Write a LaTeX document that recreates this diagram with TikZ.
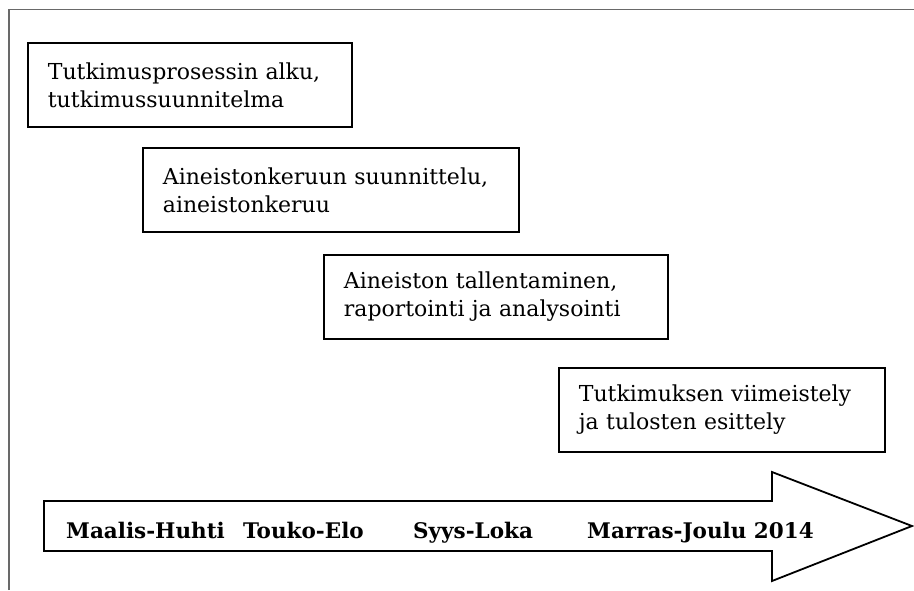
\documentclass[tikz,border=0pt]{standalone}
\usepackage{fontspec}
\setmainfont{DejaVu Serif}
\definecolor{kehys}{RGB}{105,105,105}

\begin{document}
\begin{tikzpicture}[x=1pt,y=-1pt,
		vaihe/.style={draw,line width=1.8pt,align=left,anchor=north west,
			inner xsep=20pt,inner ysep=0pt,minimum height=84pt,text width=#1,
			font=\fontsize{22}{28}\selectfont},
		kuukausi/.style={anchor=base west,inner sep=0pt,
			font=\fontsize{21.5}{24}\selectfont\bfseries}]
			
				\useasboundingbox (0,0) rectangle (914,590);
				\draw[kehys,line width=1.5pt] (9,590) -- (9,9.5) -- (914,9.5);
				
				\node[vaihe=284pt] (alku) at (27,42) {Tutkimusprosessin alku,\\tutkimussuunnitelma};
				\node[vaihe=336pt] (keruu) at (142,147) {Aineistonkeruun suunnittelu,\\aineistonkeruu};
				\node[vaihe=304pt] (analyysi) at (323,254) {Aineiston tallentaminen,\\raportointi ja analysointi};
				\node[vaihe=286pt] (viimeistely) at (558,367) {Tutkimuksen viimeistely\\ja tulosten esittely};
				
				\draw[line width=1.8pt] (44,501) -- (772,501) -- (772,472) -- (912,526)
					-- (772,581) -- (772,551) -- (44,551) -- cycle;
				
				\node[kuukausi] (maalis) at (66,538) {Maalis-Huhti};
				\node[kuukausi] (touko) at (243,538) {Touko-Elo};
				\node[kuukausi] (syys) at (413,538) {Syys-Loka};
				\node[kuukausi] (marras) at (587,538) {Marras-Joulu 2014};
			\end{tikzpicture}
\end{document}
